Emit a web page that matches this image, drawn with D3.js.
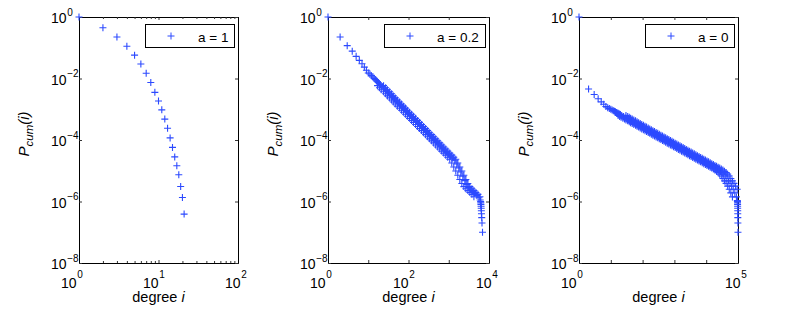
<!DOCTYPE html>
<html>
<head>
<meta charset="utf-8">
<script src="https://cdn.jsdelivr.net/npm/d3@7"></script>
<style>
body { margin: 0; background: #fff; }
svg { display: block; font-family: "Liberation Sans", Arial, Helvetica, sans-serif; }
</style>
</head>
<body>
<script>
// ---- data: degree i and cumulative probability P_cum(i) ----
const degreeA1 = [1, 2, 3, 4, 5, 6, 7, 8, 9, 10, 11, 12, 13, 14, 15, 16, 17, 18, 19, 20, 21];
const pcumA1 = [1, 0.447, 0.224, 0.112, 5.75e-2, 2.95e-2, 1.48e-2, 7.41e-3, 3.55e-3, 1.86e-3,
  9.55e-4, 4.79e-4, 2.40e-4, 1.17e-4, 5.75e-5, 2.82e-5, 1.45e-5, 7.41e-6, 3.09e-6, 1.35e-6, 3.89e-7];

const degreeA02 = [1, 2, 3, 4, 5, 6, 7, 8, 9, 10, 11, 12, 13, 14, 15, 16, 17, 18, 19, 20,
  22, 25, 28, 32, 35, 40, 45, 50, 56, 63, 71, 79, 89, 100, 112, 126, 141, 158, 178, 200,
  224, 251, 282, 316, 355, 398, 447, 501, 562, 631, 708, 794, 891, 1000, 1122, 1259, 1413,
  1585, 1778, 1995, 2239, 2512, 2818, 3162, 3548, 3981, 4467, 5012, 5623, 6026,
  6200, 6250, 6300, 6350, 6400, 6450, 6500, 6600, 6700, 6900];
const pcumA02 = [1, 0.224, 0.117, 7.76e-2, 5.25e-2, 3.89e-2, 3.02e-2, 2.34e-2, 1.86e-2, 1.51e-2,
  1.40e-2, 1.24e-2, 1.12e-2, 1.01e-2, 9.24e-3, 8.49e-3, 7.83e-3, 7.25e-3, 6.75e-3, 6.31e-3,
  5.43e-3, 4.66e-3, 4.00e-3, 3.43e-3, 2.94e-3, 2.52e-3, 2.17e-3, 1.86e-3, 1.59e-3, 1.37e-3,
  1.17e-3, 1.01e-3, 8.64e-4, 7.41e-4, 6.36e-4, 5.46e-4, 4.68e-4, 4.02e-4, 3.45e-4, 2.96e-4,
  2.54e-4, 2.18e-4, 1.87e-4, 1.60e-4, 1.38e-4, 1.18e-4, 1.01e-4, 8.69e-5, 7.46e-5, 6.40e-5,
  5.49e-5, 4.71e-5, 4.04e-5, 3.47e-5, 2.97e-5, 2.55e-5, 2.19e-5,
  1.66e-5, 1.23e-5, 9.12e-6, 6.61e-6, 4.79e-6, 3.55e-6, 2.82e-6, 2.40e-6, 2.09e-6, 1.82e-6,
  1.58e-6, 1.32e-6, 1.12e-6,
  1.0e-6, 9e-7, 8e-7, 7e-7, 6e-7, 5e-7, 4e-7, 3e-7, 2e-7, 1e-7];

// upper and lower edge of the thick band of overlapping markers (a = 0.2)
const bandDegUpA02 = [24, 27, 30, 34, 38, 42, 47, 53, 60, 67, 75, 84, 94, 106, 119, 133, 150, 168,
  188, 211, 237, 266, 299, 335, 376, 422, 473, 531, 596, 668, 750, 841, 944, 1059, 1189, 1334,
  1496, 1679, 1884, 2114, 2371, 2661, 2985, 3350, 3758, 4217, 4732, 5309, 5957];
const bandDegLoA02 = [17, 19, 21, 24, 27, 30, 34, 38, 42, 47, 53, 60, 67, 75, 84, 94, 106, 119,
  133, 150, 168, 188, 211, 237, 266, 299, 335, 376, 422, 473, 531, 596, 668, 750, 841, 944, 1059,
  1189, 1334, 1496, 1679, 1884, 2114, 2371, 2661, 2985, 3350, 3758, 4217];
const bandPcumA02 = [5.86e-3, 5.03e-3, 4.32e-3, 3.70e-3, 3.18e-3, 2.72e-3, 2.34e-3, 2.01e-3,
  1.72e-3, 1.48e-3, 1.26e-3, 1.09e-3, 9.33e-4, 8.00e-4, 6.87e-4, 5.90e-4, 5.05e-4, 4.34e-4,
  3.73e-4, 3.20e-4, 2.74e-4, 2.35e-4, 2.02e-4, 1.73e-4, 1.49e-4, 1.27e-4, 1.09e-4, 9.39e-5,
  8.06e-5, 6.91e-5, 5.93e-5, 5.09e-5, 4.36e-5, 3.75e-5, 3.21e-5, 2.75e-5, 2.37e-5, 1.79e-5,
  1.33e-5, 9.85e-6, 7.14e-6, 5.17e-6, 3.83e-6, 3.05e-6, 2.59e-6, 2.26e-6, 1.97e-6, 1.71e-6, 1.43e-6];

const degreeA0 = [1, 2, 3, 4, 5, 6, 7, 8, 9, 10, 11, 12, 13, 14, 15, 16, 17, 18, 19, 20,
  22, 25, 28, 32, 35, 40, 45, 50, 56, 63, 71, 79, 89, 100, 112, 126, 141, 158, 178, 200,
  224, 251, 282, 316, 355, 398, 447, 501, 562, 631, 708, 794, 891, 1000, 1122, 1259, 1413,
  1585, 1778, 1995, 2239, 2512, 2818, 3162, 3548, 3981, 4467, 5012, 5623, 6310, 7079, 7943,
  8913, 10000, 11220, 12589, 14125, 15849, 17783, 19953, 22387,
  25119, 28184, 31623, 35481, 39811, 44668, 50119, 56234, 63096, 70795, 79433, 89125, 95499,
  96000, 96500, 97000, 97300, 97600, 98000, 98300, 98700, 99200, 99800];
const pcumA0 = [1, 4.57e-3, 3.02e-3, 2.19e-3, 1.74e-3, 1.45e-3, 1.23e-3, 1.12e-3, 1.05e-3, 1.00e-3,
  9.46e-4, 8.99e-4, 8.59e-4, 8.22e-4, 7.91e-4, 7.62e-4, 7.35e-4, 7.11e-4, 6.89e-4, 6.69e-4,
  6.27e-4, 5.86e-4, 5.48e-4, 5.13e-4, 4.80e-4, 4.49e-4, 4.20e-4, 3.93e-4, 3.67e-4, 3.44e-4,
  3.21e-4, 3.01e-4, 2.81e-4, 2.63e-4, 2.46e-4, 2.30e-4, 2.15e-4, 2.01e-4, 1.88e-4, 1.76e-4,
  1.65e-4, 1.54e-4, 1.44e-4, 1.35e-4, 1.26e-4, 1.18e-4, 1.10e-4, 1.03e-4, 9.66e-5, 9.04e-5,
  8.45e-5, 7.91e-5, 7.40e-5, 6.92e-5, 6.47e-5, 6.05e-5, 5.66e-5, 5.30e-5, 4.95e-5, 4.63e-5,
  4.34e-5, 4.06e-5, 3.79e-5, 3.55e-5, 3.32e-5, 3.10e-5, 2.90e-5, 2.72e-5, 2.54e-5, 2.38e-5,
  2.22e-5, 2.08e-5, 1.95e-5, 1.82e-5, 1.70e-5, 1.59e-5, 1.49e-5, 1.39e-5, 1.30e-5, 1.22e-5, 1.14e-5,
  1.05e-5, 9.55e-6, 8.71e-6, 7.76e-6, 6.76e-6, 5.62e-6, 4.68e-6, 3.89e-6, 3.16e-6, 2.51e-6,
  1.91e-6, 1.41e-6, 1.07e-6,
  1.0e-6, 9e-7, 8e-7, 7e-7, 6e-7, 5e-7, 4e-7, 3e-7, 2e-7, 1e-7];

// upper and lower edge of the thick band of overlapping markers (a = 0)
const bandDegUpA0 = [30, 34, 38, 42, 47, 53, 60, 67, 75, 84, 94, 106, 119, 133, 150, 168, 188, 211,
  237, 266, 299, 335, 376, 422, 473, 531, 596, 668, 750, 841, 944, 1059, 1189, 1334, 1496, 1679,
  1884, 2114, 2371, 2661, 2985, 3350, 3758, 4217, 4732, 5309, 5957, 6683, 7499, 8414, 9441, 10593,
  11885, 13335, 14962, 16788, 18836, 21135, 23714, 26607, 29854, 33497, 37584, 42170, 47315,
  53088, 59566, 66834, 74989, 84140, 94406];
const bandDegLoA0 = [17, 19, 21, 24, 27, 30, 34, 38, 42, 47, 53, 60, 67, 75, 84, 94, 106, 119, 133,
  150, 168, 188, 211, 237, 266, 299, 335, 376, 422, 473, 531, 596, 668, 750, 841, 944, 1059, 1189,
  1334, 1496, 1679, 1884, 2114, 2371, 2661, 2985, 3350, 3758, 4217, 4732, 5309, 5957, 6683, 7499,
  8414, 9441, 10593, 11885, 13335, 14962, 16788, 18836, 21135, 23714, 26607, 29854, 33497, 37584,
  42170, 47315, 53088, 59566, 66834];
const bandPcumA0 = [6.27e-4, 5.86e-4, 5.48e-4, 5.13e-4, 4.80e-4, 4.49e-4, 4.20e-4, 3.93e-4, 3.67e-4,
  3.44e-4, 3.21e-4, 3.01e-4, 2.81e-4, 2.63e-4, 2.46e-4, 2.30e-4, 2.15e-4, 2.01e-4, 1.88e-4, 1.76e-4,
  1.65e-4, 1.54e-4, 1.44e-4, 1.35e-4, 1.26e-4, 1.18e-4, 1.10e-4, 1.03e-4, 9.66e-5, 9.04e-5,
  8.45e-5, 7.91e-5, 7.40e-5, 6.92e-5, 6.47e-5, 6.05e-5, 5.66e-5, 5.30e-5, 4.95e-5, 4.63e-5,
  4.34e-5, 4.06e-5, 3.79e-5, 3.55e-5, 3.32e-5, 3.10e-5, 2.90e-5, 2.72e-5, 2.54e-5, 2.38e-5,
  2.22e-5, 2.08e-5, 1.95e-5, 1.82e-5, 1.70e-5, 1.59e-5, 1.49e-5, 1.39e-5, 1.30e-5, 1.22e-5, 1.14e-5,
  1.05e-5, 9.55e-6, 8.71e-6, 7.76e-6, 6.76e-6, 5.62e-6, 4.68e-6, 3.89e-6, 3.16e-6, 2.51e-6,
  1.91e-6, 1.41e-6];

const legendLabels = ["a = 1", "a = 0.2", "a = 0"];
const xMaxExp = [2, 4, 5];
const xTickExps = [[0, 1, 2], [0, 2, 4], [0, 5]];
const yTickExps = [0, -2, -4, -6, -8];

const panels = [
  { runs: [[degreeA1, pcumA1]] },
  { runs: [[degreeA02, pcumA02], [bandDegUpA02, bandPcumA02], [bandDegLoA02, bandPcumA02]] },
  { runs: [[degreeA0, pcumA0], [bandDegUpA0, bandPcumA0], [bandDegLoA0, bandPcumA0]] }
];

// ---- layout ----
const width = 789, height = 311;
const panelX = [[79, 238], [328, 489], [579, 738]];
const plotTop = 17, plotBottom = 263;
const blue = "#2c4aff";
const tickFont = 14, supFont = 10, titleFont = 15, legendFont = 13.5;
const arm = 3.5;
const plusPath = `M${-arm},0H${arm}M0,${-arm}V${arm}`;

const svg = d3.select("body")
  .append("svg")
  .attr("width", width)
  .attr("height", height);

const sup = s => s.replace("-", "\u2212");

panels.forEach((p, k) => {
  const [x0, x1] = panelX[k];
  const xScale = d3.scaleLog().domain([1, Math.pow(10, xMaxExp[k])]).range([x0, x1]);
  const yScale = d3.scaleLog().domain([1e-8, 1]).range([plotBottom, plotTop]);
  const g = svg.append("g");

  const xMajor = d3.range(0, xMaxExp[k] + 1).map(e => Math.pow(10, e));
  const xMinor = xMaxExp[k] === 2
    ? [1, 10].flatMap(b => d3.range(2, 10).map(m => b * m))
    : [];
  const yMajor = yTickExps.map(e => Math.pow(10, e));

  // ---- axes (ticks point inward, box all round) ----
  const styleAxis = sel => {
    sel.select(".domain").attr("stroke", "#000");
    sel.selectAll(".tick line").attr("stroke", "#333");
    sel.selectAll("text").remove();
  };
  g.append("g").attr("transform", `translate(0,${plotBottom})`)
    .call(d3.axisBottom(xScale).tickValues(xMajor).tickSizeInner(-3).tickSizeOuter(0).tickFormat(""))
    .call(styleAxis);
  g.append("g").attr("transform", `translate(0,${plotTop})`)
    .call(d3.axisTop(xScale).tickValues(xMajor).tickSizeInner(-3).tickSizeOuter(0).tickFormat(""))
    .call(styleAxis);
  if (xMinor.length) {
    g.append("g").attr("transform", `translate(0,${plotBottom})`)
      .call(d3.axisBottom(xScale).tickValues(xMinor).tickSizeInner(-2).tickSizeOuter(0).tickFormat(""))
      .call(styleAxis);
    g.append("g").attr("transform", `translate(0,${plotTop})`)
      .call(d3.axisTop(xScale).tickValues(xMinor).tickSizeInner(-2).tickSizeOuter(0).tickFormat(""))
      .call(styleAxis);
  }
  g.append("g").attr("transform", `translate(${x0},0)`)
    .call(d3.axisLeft(yScale).tickValues(yMajor).tickSizeInner(-3).tickSizeOuter(0).tickFormat(""))
    .call(styleAxis);
  g.append("g").attr("transform", `translate(${x1},0)`)
    .call(d3.axisRight(yScale).tickValues(yMajor).tickSizeInner(-3).tickSizeOuter(0).tickFormat(""))
    .call(styleAxis);

  // ---- y tick labels 10^e ----
  yTickExps.forEach(e => {
    const ty = yScale(Math.pow(10, e)) + 0.5;
    g.append("text").attr("x", x0 - 12.5).attr("y", ty + 5.5)
      .attr("text-anchor", "end").style("font-size", tickFont + "px").attr("fill", "#000")
      .text("10");
    g.append("text").attr("x", x0 - 11.8).attr("y", ty - 2)
      .style("font-size", supFont + "px").attr("fill", "#000")
      .text(sup(String(e)));
  });

  // ---- x tick labels 10^e ----
  xTickExps[k].forEach(e => {
    const tx = xScale(Math.pow(10, e)) + 0.5;
    const frac = e / xMaxExp[k];
    const end = tx - 3 + 5 * frac;
    g.append("text").attr("x", end).attr("y", 287.5)
      .attr("text-anchor", "end").style("font-size", tickFont + "px").attr("fill", "#000")
      .text("10");
    g.append("text").attr("x", end + 0.8).attr("y", 277.5)
      .style("font-size", supFont + "px").attr("fill", "#000")
      .text(sup(String(e)));
  });

  // ---- axis titles ----
  const xt = g.append("text").attr("x", (x0 + x1) / 2).attr("y", 302)
    .attr("text-anchor", "middle").style("font-size", "14.5px").attr("fill", "#000");
  xt.append("tspan").text("degree ");
  xt.append("tspan").style("font-style", "italic").text("i");

  const yt = g.append("text")
    .attr("transform", `translate(${x0 - 50},134) rotate(-90)`)
    .attr("text-anchor", "middle").style("font-size", titleFont + "px")
    .style("font-style", "italic").attr("fill", "#000");
  yt.append("tspan").text("P");
  yt.append("tspan").attr("dy", 3.5).style("font-size", "11.5px").text("cum");
  yt.append("tspan").attr("dy", -3.5).text("(i)");

  // ---- markers ----
  const pts = p.runs.flatMap(([deg, pc]) => deg.map((d, i) => ({ d, v: pc[i] })));
  g.append("g")
    .selectAll("path")
    .data(pts)
    .join("path")
    .attr("d", plusPath)
    .attr("transform", d => `translate(${xScale(d.d)},${yScale(d.v)})`)
    .attr("fill", "none")
    .attr("stroke", blue)
    .attr("stroke-width", 1.1);

  // ---- legend ----
  const leg = g.append("g");
  const boxRight = x1 - 4;
  const label = leg.append("text").attr("y", 41.5)
    .style("font-size", legendFont + "px").attr("fill", "#000")
    .text(legendLabels[k]);
  const tw = label.node().getComputedTextLength();
  const boxLeft = Math.round(boxRight - 6 - tw - 53);
  label.attr("x", boxLeft + 53);
  leg.insert("rect", "text")
    .attr("x", boxLeft + 0.5).attr("y", 24.5)
    .attr("width", boxRight - boxLeft).attr("height", 23)
    .attr("fill", "#fff").attr("stroke", "#000");
  leg.append("path").attr("d", plusPath)
    .attr("transform", `translate(${boxLeft + 26},36)`)
    .attr("fill", "none").attr("stroke", blue);
});
</script>
</body>
</html>
